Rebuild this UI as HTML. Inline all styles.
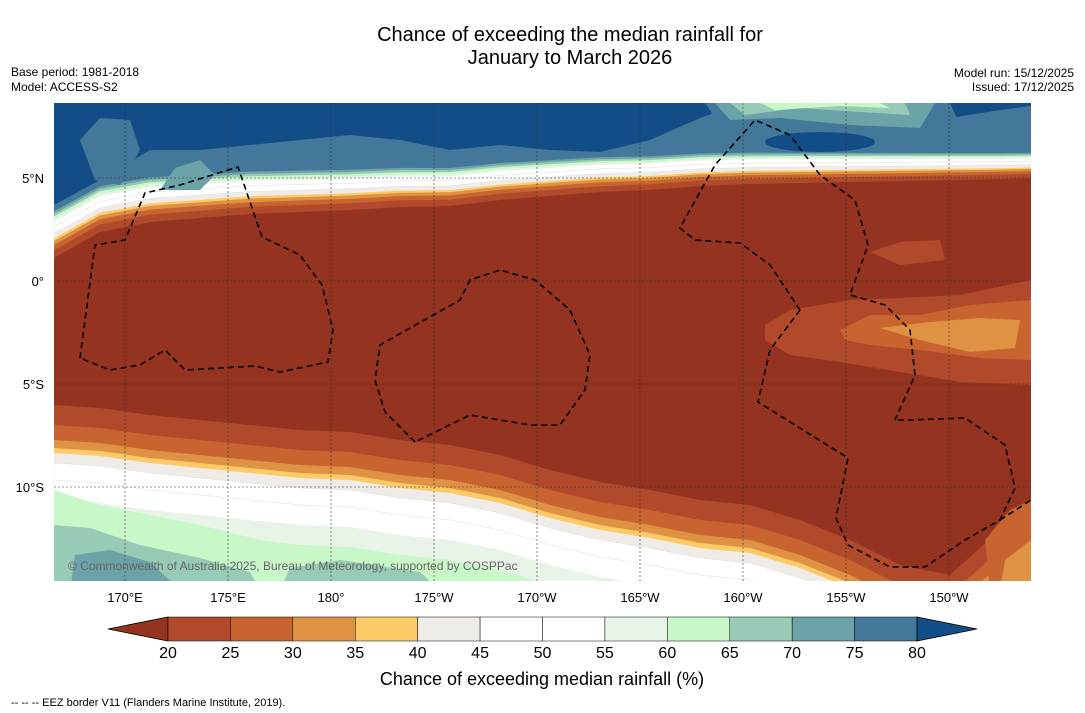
<!DOCTYPE html>
<html><head><meta charset="utf-8"><style>
body{margin:0;background:#fff;width:1085px;height:713px;overflow:hidden;font-family:"Liberation Sans","DejaVu Sans",sans-serif}
svg{position:absolute;left:0;top:0}
</style></head><body>
<svg id="s" width="1085" height="713" font-family="Liberation Sans, DejaVu Sans, sans-serif">
<text x="570" y="41" font-size="20" text-anchor="middle">Chance of exceeding the median rainfall for</text>
<text x="570" y="64" font-size="20" text-anchor="middle">January to March 2026</text>
<text x="11" y="76" font-size="12">Base period: 1981-2018</text>
<text x="11" y="91" font-size="12">Model: ACCESS-S2</text>
<text x="1074" y="77" font-size="12" text-anchor="end">Model run: 15/12/2025</text>
<text x="1074" y="91" font-size="12" text-anchor="end">Issued: 17/12/2025</text>
<defs><clipPath id="mc"><rect x="54" y="103" width="977" height="478"/></clipPath></defs>
<g id="map" clip-path="url(#mc)"></g>
<g id="grid"></g>
<g id="eez" fill="none" stroke="#000" stroke-width="1.6" stroke-dasharray="6,4"></g>
<text x="68" y="570" font-size="12" fill="#666">© Commonwealth of Australia 2025, Bureau of Meteorology, supported by COSPPac</text>
<g id="axes"></g>
<g id="cbar"></g>
<text x="542" y="685" font-size="18" text-anchor="middle">Chance of exceeding median rainfall (%)</text>
<text x="11" y="706" font-size="11">--  --  -- EEZ border V11 (Flanders Marine Institute, 2019).</text>
</svg>
<script>
const levels=[20,25,30,35,40,45,50,55,60,65,70,75,80];
const colors=["#953321","#b04a2a","#c7642f","#df9243","#fdca68","#efebe7","#ffffff","#ffffff","#e9f4e9","#c8f7c8","#98cbb6","#6ba3a8","#44789a","#134d87"];
const lonTicks=["170°E","175°E","180°","175°W","170°W","165°W","160°W","155°W","150°W"];
const lonVals=[170,175,180,185,190,195,200,205,210];
const latTicks=["5°N","0°","5°S","10°S"];
const latVals=[5,0,-5,-10];
const xs=[54,100,150,200,250,300,350,400,450,500,550,600,650,700,750,800,850,900,950,1000,1031];
const northEdge=[258,232,222,218,214,212,210,207,206,200,196,192,190,186,184,183,182,181,180,179,178];
const northBlue=[205,180,150,150,145,140,135,140,150,145,150,152,140,118,100,100,100,100,118,110,106];
const southEdge=[405,408,415,420,425,430,432,440,445,455,470,482,490,500,505,520,540,565,575,530,505];
const NS="http://www.w3.org/2000/svg";
const lx=v=>125+(v-170)*20.6, ly=v=>281-v*20.6;
function el(t,a,p){const e=document.createElementNS(NS,t);for(const k in a)e.setAttribute(k,a[k]);p.appendChild(e);return e;}
const map=document.getElementById('map');
const bg=el('rect',{x:54,y:103,width:977,height:478,fill:colors[0]},map);


const nOff=[0,6,10,13,15,19,24,28,30,32,34,36];
function poly(pts,fill,name){const p=el('polygon',{points:pts.map(q=>q.join(',')).join(' '),fill:fill,stroke:fill=="#ffffff"?"#ddd":"none","stroke-width":0.5},map);

return p;}
for(let k=0;k<nOff.length;k++){
 const pts=[[54,100]];
 xs.forEach((x,i)=>{const s=1.3-0.6*(x-54)/977;pts.push([x,northEdge[i]-nOff[k]*s]);});
 pts.push([1031,100]);
 poly(pts,colors[k+1],'north-band-'+levels[k]);
}
{const pts=[[54,100]];xs.forEach((x,i)=>{const s=1.3-0.6*(x-54)/977;pts.push([x,Math.min(northBlue[i],northEdge[i]-40*s)]);});pts.push([1031,100]);poly(pts,colors[13],'north-band-80');}
poly([[80,140],[100,118],[130,120],[140,150],[120,185],[95,180]],colors[12],'north-teal-patch');
poly([[160,190],[175,168],[200,160],[215,175],[200,190]],colors[11],'north-teal-light');
poly([[705,103],[720,125],[760,128],[800,122],[850,130],[920,140],[960,125],[950,103]],colors[12],'blob-75');
poly([[715,103],[730,120],[780,118],[850,125],[920,128],[935,103]],colors[11],'blob-70');
poly([[730,103],[745,115],[800,108],[860,112],[910,115],[905,103]],colors[10],'blob-65');
poly([[760,103],[775,110],[840,106],[890,108],[880,103]],colors[9],'blob-60');
el('ellipse',{cx:820,cy:142,rx:55,ry:10,fill:colors[13]},map);
const sOff=[0,20,35,43,48,58,75,95,115];
for(let k=0;k<sOff.length;k++){
 const pts=[[54,590]];
 xs.forEach((x,i)=>{pts.push([x,southEdge[i]+sOff[k]]);});
 pts.push([1031,590]);
 poly(pts,colors[k+1],'south-band-'+levels[k]);
}
poly([[54,590],[54,490],[100,505],[150,515],[200,525],[260,540],[330,550],[420,565],[480,590]],colors[9],'south-green');
poly([[54,590],[54,525],[90,528],[140,545],[200,558],[250,572],[260,590]],colors[10],'south-teal');
poly([[70,590],[75,555],[110,550],[150,562],[180,590]],colors[11],'south-teal-dark');
poly([[280,590],[290,568],[340,560],[420,572],[440,590]],colors[10],'south-teal-mid');
poly([[990,590],[985,540],[1010,510],[1031,500],[1031,590]],colors[2],'south-east-orange');
poly([[1000,590],[1005,560],[1031,540],[1031,590]],colors[3],'south-east-orange2');
poly([[765,325],[790,310],[850,300],[900,298],[960,295],[1031,280],[1031,385],[960,382],[900,372],[840,362],[790,355],[765,340]],colors[1],'east-patch-20');
poly([[840,330],[870,315],[920,315],[970,305],[1031,300],[1031,360],[980,358],[920,350],[870,345],[845,340]],colors[2],'east-patch-25');
poly([[880,328],[930,322],[980,318],[1020,320],[1015,348],[970,352],[920,340]],colors[3],'east-patch-30');
poly([[870,252],[900,242],[940,240],[945,260],[900,265]],colors[1],'east-patch-small');
const grid=document.getElementById('grid');
lonVals.forEach(v=>el('line',{x1:lx(v),x2:lx(v),y1:103,y2:581,stroke:"#333","stroke-width":0.6,"stroke-dasharray":"2,2"},grid));
latVals.forEach(v=>el('line',{x1:54,x2:1031,y1:ly(v),y2:ly(v),stroke:"#333","stroke-width":0.6,"stroke-dasharray":"2,2"},grid));
const eez=document.getElementById('eez');
["M80,358 L95,245 L125,240 L145,193 L180,185 L238,167 L262,237 L300,255 L322,285 L333,330 L328,362 L280,372 L255,366 L185,370 L165,350 L140,365 L110,370 Z",
"M415,442 L385,412 L375,380 L380,345 L460,300 L470,280 L500,270 L535,280 L570,310 L590,355 L585,390 L560,425 L530,425 L470,415 Z",
"M800,310 L770,265 L740,243 L695,240 L680,228 L715,165 L755,120 L790,135 L820,175 L855,200 L868,245 L850,295 L885,305 L910,330 L915,375 L895,420",
"M800,310 L770,350 L758,402 L848,458 L836,518 L848,545 L890,567 L925,567 L965,540 L1000,520 L1015,488 L1005,445 L965,418 L910,420 L895,420",
"M1000,520 L1031,500"].forEach((d,i)=>{const p=el('path',{d:d},eez);});
const ax=document.getElementById('axes');
lonVals.forEach((v,i)=>{const t=el('text',{x:lx(v),y:602,"font-size":13,"text-anchor":"middle"},ax);t.textContent=lonTicks[i];

});
latVals.forEach((v,i)=>{const t=el('text',{x:44,y:ly(v)+5,"font-size":13,"text-anchor":"end"},ax);t.textContent=latTicks[i];

});
const cb=document.getElementById('cbar');
const cx0=168,cw=749/12,cy=617,ch=24;
const lt=el('polygon',{points:`108,629 ${cx0},${cy} ${cx0},${cy+ch}`,fill:colors[0],stroke:"#000","stroke-width":0.8},cb);


for(let k=0;k<12;k++){const r=el('rect',{x:cx0+k*cw,y:cy,width:cw,height:ch,fill:colors[k+1],stroke:"#000","stroke-width":0.5},cb);

}
const rt=el('polygon',{points:`${cx0+12*cw},${cy} 977,629 ${cx0+12*cw},${cy+ch}`,fill:colors[13],stroke:"#000","stroke-width":0.8},cb);


levels.forEach((v,k)=>{const t=el('text',{x:cx0+k*cw,y:658,"font-size":16,"text-anchor":"middle"},cb);t.textContent=v;

});
</script>
</body></html>
